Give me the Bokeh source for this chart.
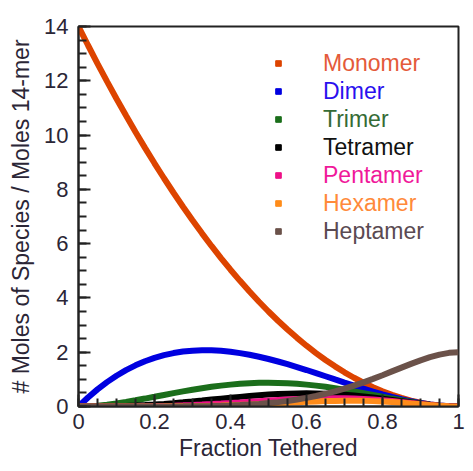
from bokeh.plotting import figure
from bokeh.models import Range1d, FixedTicker, Legend, LegendItem
from bokeh.embed import file_html
from bokeh.resources import INLINE

fraction = [0.0, 0.025, 0.05, 0.075, 0.1, 0.125, 0.15, 0.175, 0.2, 0.225, 0.25,
            0.275, 0.3, 0.325, 0.35, 0.375, 0.4, 0.425, 0.45, 0.475, 0.5,
            0.525, 0.55, 0.575, 0.6, 0.625, 0.65, 0.675, 0.7, 0.725, 0.75,
            0.775, 0.8, 0.825, 0.85, 0.875, 0.9, 0.925, 0.95, 0.975, 1.0]

monomer = [14.0, 13.309, 12.635, 11.979, 11.34, 10.719, 10.115, 9.529, 8.96, 8.409, 7.875,
           7.359, 6.86, 6.379, 5.915, 5.469, 5.04, 4.629, 4.235, 3.859, 3.5,
           3.159, 2.835, 2.529, 2.24, 1.969, 1.715, 1.479, 1.26, 1.059, 0.875,
           0.709, 0.56, 0.429, 0.315, 0.219, 0.14, 0.079, 0.035, 0.009, 0.0]
dimer = [0.0, 0.333, 0.632, 0.898, 1.134, 1.340, 1.517, 1.668, 1.792, 1.892, 1.969,
         2.024, 2.058, 2.073, 2.070, 2.051, 2.016, 1.967, 1.906, 1.833, 1.75,
         1.658, 1.559, 1.454, 1.344, 1.231, 1.115, 0.998, 0.882, 0.768, 0.656,
         0.549, 0.448, 0.354, 0.268, 0.191, 0.126, 0.073, 0.033, 0.009, 0.0]
trimer = [0.0, 0.008, 0.032, 0.067, 0.113, 0.168, 0.228, 0.292, 0.358, 0.426, 0.492,
          0.557, 0.617, 0.674, 0.725, 0.769, 0.806, 0.836, 0.858, 0.871, 0.875,
          0.870, 0.857, 0.836, 0.806, 0.769, 0.725, 0.674, 0.617, 0.557, 0.492,
          0.425, 0.358, 0.292, 0.228, 0.167, 0.113, 0.068, 0.031, 0.008, 0.0]
tetramer = [0.0, 0.0, 0.002, 0.005, 0.011, 0.021, 0.034, 0.051, 0.072, 0.096, 0.123,
            0.153, 0.185, 0.219, 0.254, 0.288, 0.322, 0.355, 0.386, 0.414, 0.438,
            0.457, 0.471, 0.481, 0.484, 0.481, 0.471, 0.455, 0.432, 0.404, 0.369,
            0.329, 0.286, 0.241, 0.194, 0.146, 0.102, 0.063, 0.029, 0.008, 0.0]
pentamer = [0.0, 0.0, 0.0, 0.0, 0.001, 0.003, 0.005, 0.009, 0.014, 0.022, 0.031,
            0.042, 0.056, 0.071, 0.089, 0.108, 0.129, 0.151, 0.174, 0.197, 0.219,
            0.240, 0.259, 0.277, 0.290, 0.301, 0.306, 0.307, 0.302, 0.293, 0.277,
            0.255, 0.229, 0.199, 0.165, 0.128, 0.092, 0.058, 0.028, 0.008, 0.0]
hexamer = [0.0, 0.0, 0.0, 0.0, 0.0, 0.0, 0.001, 0.002, 0.003, 0.005, 0.008,
           0.012, 0.017, 0.023, 0.031, 0.041, 0.052, 0.064, 0.078, 0.094, 0.109,
           0.126, 0.142, 0.159, 0.174, 0.188, 0.199, 0.207, 0.211, 0.212, 0.208,
           0.198, 0.183, 0.164, 0.140, 0.112, 0.083, 0.054, 0.027, 0.008, 0.0]
heptamer = [0.0, 0.0, 0.0, 0.0, 0.0, 0.0, 0.0, 0.0, 0.001, 0.002, 0.003,
            0.005, 0.008, 0.012, 0.018, 0.026, 0.038, 0.052, 0.071, 0.095, 0.125,
            0.161, 0.205, 0.257, 0.317, 0.387, 0.468, 0.558, 0.659, 0.770, 0.890,
            1.018, 1.153, 1.293, 1.433, 1.571, 1.701, 1.817, 1.911, 1.976, 2.0]

series_names = ["Monomer", "Dimer", "Trimer", "Tetramer", "Pentamer", "Hexamer", "Heptamer"]
series_values = [monomer, dimer, trimer, tetramer, pentamer, hexamer, heptamer]
series_colors = ["#DD4400", "#0000E0", "#1B6E1B", "#000000", "#EE1188", "#FF8C1A", "#6B524A"]
label_colors = ["#E45A3A", "#2A10EE", "#356B35", "#111111", "#F0189A", "#FF8A3A", "#5A4A52"]

y_ticks = [0, 2, 4, 6, 8, 10, 12, 14]
x_ticks = [0, 0.2, 0.4, 0.6, 0.8, 1]
x_tick_labels = ["0", "0.2", "0.4", "0.6", "0.8", "1"]

FONT = "Liberation Sans"
TXT = "#2b2636"

p = figure(width=465, height=463, output_backend="svg", toolbar_location=None,
           x_range=Range1d(0, 1), y_range=Range1d(0, 14),
           min_border_left=78, min_border_right=7, min_border_top=26, min_border_bottom=57)
p.xgrid.visible = False
p.ygrid.visible = False
p.outline_line_color = "#222222"
p.outline_line_width = 2
p.outline_line_alpha = 1
p.background_fill_color = "white"

for vals, col in zip(series_values, series_colors):
    p.line(fraction, vals, line_color=col, line_width=6)

for ax in (p.xaxis[0], p.yaxis[0]):
    ax.axis_line_color = "#222222"
    ax.axis_line_width = 2
    ax.major_tick_line_color = "#222222"
    ax.minor_tick_line_color = "#222222"
    ax.major_tick_line_width = 2
    ax.minor_tick_line_width = 2
    ax.major_tick_in = 12
    ax.major_tick_out = 0
    ax.minor_tick_in = 8
    ax.minor_tick_out = 0
    ax.major_label_text_font = FONT
    ax.major_label_text_font_size = "22px"
    ax.major_label_text_color = TXT
    ax.axis_label_text_font = FONT
    ax.axis_label_text_font_size = "23px"
    ax.axis_label_text_font_style = "normal"
    ax.axis_label_text_color = TXT

p.yaxis.ticker = FixedTicker(ticks=y_ticks, minor_ticks=[i * 0.5 for i in range(29)])
p.xaxis.ticker = FixedTicker(ticks=x_ticks, minor_ticks=[i * 0.05 for i in range(21)])
p.xaxis.major_label_overrides = {t: l for t, l in zip(x_ticks, x_tick_labels)}
p.yaxis.major_label_standoff = 10
p.xaxis.major_label_standoff = 7
p.yaxis.axis_label_standoff = 7
p.xaxis.axis_label_standoff = 3
p.xaxis.axis_label = "Fraction Tethered"
p.yaxis.axis_label = "# Moles of Species / Moles 14-mer"

for k, (name, vals, col, lcol) in enumerate(zip(series_names, series_values, series_colors, label_colors)):
    r = p.scatter(fraction[:1], vals[:1], marker="square", color=col, visible=False)
    leg = Legend(items=[LegendItem(label=name, renderers=[r])],
                 location=(193, 329 - 28 * k),
                 glyph_width=14, glyph_height=14, label_height=28,
                 label_standoff=38, padding=0, margin=0, spacing=0,
                 border_line_alpha=0, background_fill_alpha=0,
                 label_text_font=FONT, label_text_font_size="23px",
                 label_text_color=lcol)
    p.add_layout(leg, "center")

open("out.html", "w").write(file_html(p, INLINE))
